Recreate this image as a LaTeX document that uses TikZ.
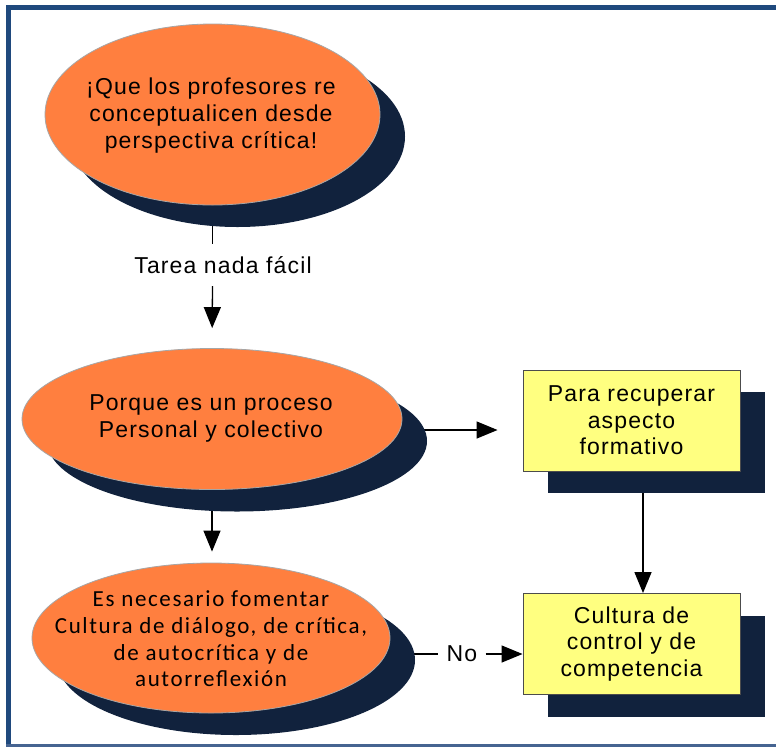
\documentclass[tikz,border=0pt]{standalone}
\usepackage{fontspec}
\setmainfont{Liberation Sans}[LetterSpace=5]
\newfontfamily\calf{Carlito}[LetterSpace=7]
\usetikzlibrary{shapes.geometric,shadows,arrows.meta,backgrounds}
\definecolor{orng}{RGB}{255,127,63}
\definecolor{navy}{RGB}{17,34,61}
\definecolor{ylw}{RGB}{255,255,128}
\definecolor{frameblue}{RGB}{31,73,125}
\definecolor{framelight}{RGB}{70,100,145}
\tikzset{
  shad/.style={drop shadow={shadow xshift=25pt, shadow yshift=-22pt, fill=navy, opacity=1}},
  oval/.style={ellipse, fill=orng, draw=gray!70, line width=0.8pt, inner sep=0pt, shad},
  boxy/.style={rectangle, fill=ylw, draw=gray!60!black, line width=0.9pt, inner sep=0pt,
               minimum width=217pt, minimum height=101pt, shad},
  txt/.style={align=center, font=\fontsize{23}{27}\selectfont, text=black, inner sep=0pt},
  btxt/.style={align=center, font=\fontsize{23}{26.5}\selectfont, text=black, inner sep=0pt},
  ctxt/.style={align=center, font=\calf\fontsize{23}{26.7}\selectfont, text=black, inner sep=0pt},
  conn/.style={draw=black, line width=1.3pt},
  arr/.style={conn, -{Triangle[length=21pt,width=17pt]}},
}
\begin{document}
\begin{tikzpicture}[x=1pt,y=-1pt]
\useasboundingbox (0,0) rectangle (776,748);
% frame
\draw[frameblue, line width=5pt] (8.5,746) -- (8.5,7.5) -- (776,7.5);
\draw[framelight, line width=3pt] (6,745.5) -- (776,745.5);

% nodes
\node[oval, minimum width=335pt, minimum height=181pt] (e1) at (212.5,114.5) {};
\node[txt] (e1t) at (211,116) {¡Que los profesores re\\conceptualicen desde\\perspectiva crítica!};

\node[txt, minimum height=42pt] (t1) at (223,265) {Tarea nada fácil};

\node[oval, minimum width=380pt, minimum height=141pt] (e2) at (212,419) {};
\node[txt] (e2t) at (211,418.5) {Porque es un proceso\\Personal y colectivo};

\node[oval, minimum width=358pt, minimum height=150pt] (e3) at (211,638) {};
\node[ctxt] (e3t) at (211,639) {Es necesario fomentar\\Cultura de diálogo, de crítica,\\de autocrítica y de\\autorreflexión};

\node[boxy] (b1) at (631.5,420.5) {};
\node[btxt] (b1t) at (b1) {Para recuperar\\aspecto\\formativo};

\node[boxy] (b2) at (631.5,644) {};
\node[btxt] (b2t) at (b2) {Cultura de\\control y de\\competencia};

\node[txt, minimum width=47pt] (no) at (462,654) {No};

% connectors
\begin{pgfonlayer}{background}
\fill[white] (0,0) rectangle (776,748);
\draw[conn] (e1.south) -- (e1.south |- t1.north);
\draw[arr, shorten >=20pt] (e1.south |- t1.south) -- (e2.north);
\draw[arr, shorten >=11pt] (e2.south) -- (e2.south |- e3.north);
\draw[arr, shorten >=25pt] ([yshift=-11pt]e2.east) -- ([yshift=-11pt]e2.east -| b1.west);
\draw[arr] ([xshift=11.5pt]b1.south) -- ([xshift=11.5pt]b1.south |- b2.north);
\draw[conn] ([yshift=-16pt]e3.east) -- (no.west);
\draw[arr] (no.east) -- (no.east -| b2.west);
\end{pgfonlayer}
\end{tikzpicture}
\end{document}
